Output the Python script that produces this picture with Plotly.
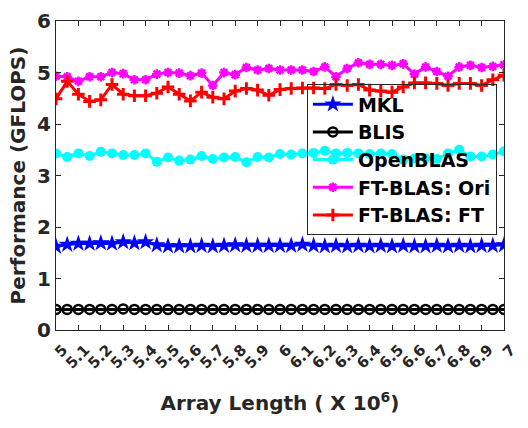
import plotly.graph_objects as go

array_len = [5.00, 5.05, 5.10, 5.15, 5.20, 5.25, 5.30, 5.35, 5.40, 5.45,
             5.50, 5.55, 5.60, 5.65, 5.70, 5.75, 5.80, 5.85, 5.90, 5.95,
             6.00, 6.05, 6.10, 6.15, 6.20, 6.25, 6.30, 6.35, 6.40, 6.45,
             6.50, 6.55, 6.60, 6.65, 6.70, 6.75, 6.80, 6.85, 6.90, 6.95, 7.00]

mkl = [1.62, 1.66, 1.68, 1.68, 1.69, 1.68, 1.71, 1.69, 1.71, 1.65,
       1.63, 1.63, 1.63, 1.64, 1.63, 1.64, 1.65, 1.64, 1.64, 1.64,
       1.64, 1.64, 1.66, 1.64, 1.63, 1.64, 1.63, 1.64, 1.63, 1.64,
       1.63, 1.64, 1.63, 1.63, 1.64, 1.63, 1.64, 1.63, 1.64, 1.64, 1.65]

blis = [0.40, 0.40, 0.40, 0.40, 0.40, 0.40, 0.41, 0.40, 0.40, 0.40,
        0.40, 0.40, 0.40, 0.40, 0.40, 0.40, 0.40, 0.40, 0.40, 0.40,
        0.40, 0.40, 0.40, 0.40, 0.40, 0.40, 0.40, 0.40, 0.40, 0.40,
        0.40, 0.40, 0.40, 0.40, 0.40, 0.40, 0.40, 0.40, 0.40, 0.40, 0.40]

openblas = [3.43, 3.36, 3.43, 3.38, 3.46, 3.43, 3.40, 3.40, 3.43, 3.27,
            3.35, 3.29, 3.31, 3.38, 3.32, 3.35, 3.36, 3.26, 3.36, 3.35,
            3.42, 3.41, 3.43, 3.44, 3.48, 3.43, 3.44, 3.43, 3.42, 3.43,
            3.42, 3.31, 3.33, 3.33, 3.32, 3.43, 3.50, 3.37, 3.37, 3.41, 3.47]

ft_ori = [4.93, 4.92, 4.83, 4.92, 4.92, 5.00, 4.98, 4.86, 4.86, 4.97,
          5.00, 4.99, 4.94, 4.99, 4.75, 5.00, 4.96, 5.10, 5.05, 5.08,
          5.05, 5.05, 5.05, 5.02, 5.11, 4.92, 5.08, 5.19, 5.16, 5.16,
          5.14, 5.17, 4.97, 5.11, 5.02, 4.93, 5.11, 5.14, 5.10, 5.12, 5.15]

ft_ft = [4.49, 4.83, 4.58, 4.44, 4.47, 4.77, 4.58, 4.55, 4.55, 4.60,
         4.72, 4.58, 4.45, 4.62, 4.52, 4.49, 4.64, 4.69, 4.66, 4.56,
         4.67, 4.69, 4.70, 4.70, 4.69, 4.77, 4.75, 4.77, 4.66, 4.64,
         4.62, 4.72, 4.80, 4.80, 4.79, 4.75, 4.79, 4.79, 4.75, 4.86, 4.95]

tick_vals = [5.0, 5.1, 5.2, 5.3, 5.4, 5.5, 5.6, 5.7, 5.8, 5.9, 6.0,
             6.1, 6.2, 6.3, 6.4, 6.5, 6.6, 6.7, 6.8, 6.9, 7.0]
tick_text = ["5", "5.1", "5.2", "5.3", "5.4", "5.5", "5.6", "5.7", "5.8", "5.9", "6",
             "6.1", "6.2", "6.3", "6.4", "6.5", "6.6", "6.7", "6.8", "6.9", "7"]
y_ticks = [0, 1, 2, 3, 4, 5, 6]

FONT = "DejaVu Sans, Liberation Sans, sans-serif"
AX = "#262626"

fig = go.Figure()
fig.add_trace(go.Scatter(x=array_len, y=mkl, name="<b>MKL</b>", mode="lines+markers",
                         line=dict(color="#0000FF", width=3),
                         marker=dict(symbol="star", size=13, color="#0000FF")))
fig.add_trace(go.Scatter(x=array_len, y=blis, name="<b>BLIS</b>", mode="lines+markers",
                         line=dict(color="#000000", width=3),
                         marker=dict(symbol="circle-open", size=9, color="#000000",
                                     line=dict(width=2.5))))
fig.add_trace(go.Scatter(x=array_len, y=openblas, name="<b>OpenBLAS</b>", mode="lines+markers",
                         line=dict(color="#00FFFF", width=3),
                         marker=dict(symbol="circle", size=10, color="#00FFFF")))
fig.add_trace(go.Scatter(x=array_len, y=ft_ori, name="<b>FT-BLAS: Ori</b>", mode="lines+markers",
                         line=dict(color="#FF00FF", width=3),
                         marker=dict(symbol="asterisk-open", size=8, color="#FF00FF",
                                     line=dict(width=2.5, color="#FF00FF"))))
fig.add_trace(go.Scatter(x=array_len, y=ft_ft, name="<b>FT-BLAS: FT</b>", mode="lines+markers",
                         line=dict(color="#FF0000", width=3),
                         marker=dict(symbol="cross-thin-open", size=9, color="#FF0000",
                                     line=dict(width=3, color="#FF0000"))))

fig.update_layout(
    width=528, height=428,
    margin=dict(l=56, r=12, t=9, b=98),
    paper_bgcolor="white", plot_bgcolor="white",
    font=dict(family=FONT, color=AX),
    showlegend=True,
    legend=dict(x=0.56, y=0.795, xanchor="left", yanchor="top",
                bgcolor="rgba(255,255,255,0)", bordercolor=AX, borderwidth=1,
                font=dict(family=FONT, size=19, color="#000000"),
                tracegroupgap=0, itemwidth=40, maxheight=400),
)
fig.update_xaxes(range=[5, 7], tickvals=tick_vals,
                 ticktext=["<b>%s</b>" % t for t in tick_text], tickangle=-45,
                 ticks="inside", ticklen=5, tickcolor=AX, showline=True, linecolor=AX,
                 linewidth=1, mirror="ticks", showgrid=False, zeroline=False,
                 ticklabelshift=7, ticklabelstandoff=4, ticklabeloverflow="allow",
                 tickfont=dict(family=FONT, size=15, color=AX),
                 title=dict(text="<b>Array Length ( X 10<sup>6</sup>)</b>",
                            font=dict(family=FONT, size=20, color=AX), standoff=24))
fig.update_yaxes(range=[0, 6.002], tickvals=y_ticks,
                 ticktext=["<b>%d</b>" % v for v in y_ticks],
                 ticks="inside", ticklen=5, tickcolor=AX, showline=True, linecolor=AX,
                 linewidth=1, mirror="ticks", showgrid=False, zeroline=False,
                 ticklabeloverflow="allow",
                 tickfont=dict(family=FONT, size=20, color=AX),
                 title=dict(text="<b>Performance (GFLOPS)</b>",
                            font=dict(family=FONT, size=20, color=AX), standoff=6))

fig.write_html("out.html")
